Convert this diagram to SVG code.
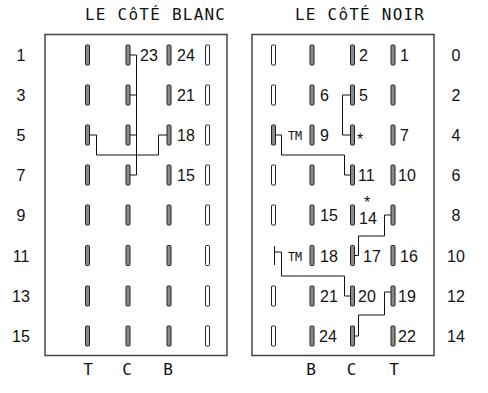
<svg xmlns="http://www.w3.org/2000/svg" width="488" height="393" viewBox="0 0 488 393">
<style>
.box{fill:none;stroke:#444;stroke-width:1.5}
.pg{fill:#8a8a8a;stroke:#222;stroke-width:1}
.pw{fill:#fff;stroke:#222;stroke-width:1}
.wire{fill:none;stroke:#111;stroke-width:1}
.num{font-family:"Liberation Sans",Arial,sans-serif;font-size:16px;fill:#111}
.rl{font-family:"Liberation Sans",Arial,sans-serif;font-size:16px;fill:#111;text-anchor:middle}
.hd{font-family:"DejaVu Sans Mono","Liberation Mono",monospace;font-size:16px;fill:#111}
.cl{font-family:"DejaVu Sans Mono","Liberation Mono",monospace;font-size:16px;fill:#111;text-anchor:middle}
.tm{font-family:"DejaVu Sans Mono","Liberation Mono",monospace;font-size:13px;fill:#111}
</style>
<defs>
<rect id="g" class="pg" x="-2" y="-10" width="4" height="20" rx="1"/>
<rect id="w" class="pw" x="-2" y="-10" width="4" height="20" rx="1"/>
</defs>

<g id="headings">
<text class="hd" x="85" y="20" textLength="140" lengthAdjust="spacing">LE CôTÉ BLANC</text>
<text class="hd" x="295" y="20" textLength="129" lengthAdjust="spacing">LE CôTÉ NOIR</text>
</g>

<g id="row-labels-left">
<text class="rl" x="21" y="61">1</text>
<text class="rl" x="21" y="101">3</text>
<text class="rl" x="21" y="141">5</text>
<text class="rl" x="21" y="181">7</text>
<text class="rl" x="21" y="221">9</text>
<text class="rl" x="21" y="262">11</text>
<text class="rl" x="21" y="302">13</text>
<text class="rl" x="21" y="342">15</text>
</g>
<g id="row-labels-right">
<text class="rl" x="456" y="61">0</text>
<text class="rl" x="456" y="101">2</text>
<text class="rl" x="456" y="141">4</text>
<text class="rl" x="456" y="181">6</text>
<text class="rl" x="456" y="221">8</text>
<text class="rl" x="456" y="262">10</text>
<text class="rl" x="456" y="302">12</text>
<text class="rl" x="456" y="342">14</text>
</g>

<g id="white-side">
<rect class="box" x="45" y="34.5" width="182" height="321"/>
<g id="white-pins">
<use href="#g" x="87.5" y="55"/><use href="#g" x="128" y="55"/><use href="#g" x="169" y="55"/><use href="#w" x="207.5" y="55"/>
<use href="#g" x="87.5" y="95"/><use href="#g" x="128" y="95"/><use href="#g" x="169" y="95"/><use href="#w" x="207.5" y="95"/>
<use href="#g" x="87.5" y="135"/><use href="#g" x="128" y="135"/><use href="#g" x="169" y="135"/><use href="#w" x="207.5" y="135"/>
<use href="#g" x="87.5" y="175"/><use href="#g" x="128" y="175"/><use href="#g" x="169" y="175"/><use href="#w" x="207.5" y="175"/>
<use href="#g" x="87.5" y="215"/><use href="#g" x="128" y="215"/><use href="#g" x="169" y="215"/><use href="#w" x="207.5" y="215"/>
<use href="#g" x="87.5" y="255.5"/><use href="#g" x="128" y="255.5"/><use href="#g" x="169" y="255.5"/><use href="#w" x="207.5" y="255.5"/>
<use href="#g" x="87.5" y="296"/><use href="#g" x="128" y="296"/><use href="#g" x="169" y="296"/><use href="#w" x="207.5" y="296"/>
<use href="#g" x="87.5" y="336"/><use href="#g" x="128" y="336"/><use href="#g" x="169" y="336"/><use href="#w" x="207.5" y="336"/>
</g>
<g id="white-labels">
<text class="num" x="140" y="61">23</text>
<text class="num" x="177" y="61">24</text>
<text class="num" x="177" y="101">21</text>
<text class="num" x="177" y="141">18</text>
<text class="num" x="177" y="181">15</text>
</g>
<g id="white-cols">
<text class="cl" x="88" y="375">T</text>
<text class="cl" x="127" y="375">C</text>
<text class="cl" x="168" y="375">B</text>
</g>
</g>

<g id="black-side">
<rect class="box" x="252" y="34.5" width="182" height="321"/>
<g id="black-pins">
<use href="#w" x="273.5" y="55"/><use href="#g" x="312" y="55"/><use href="#g" x="352.5" y="55"/><use href="#g" x="393" y="55"/>
<use href="#w" x="273.5" y="95"/><use href="#g" x="312" y="95"/><use href="#g" x="352.5" y="95"/><use href="#g" x="393" y="95"/>
<use href="#g" x="273.5" y="135"/><use href="#g" x="312" y="135"/><use href="#g" x="352.5" y="135"/><use href="#g" x="393" y="135"/>
<use href="#w" x="273.5" y="175"/><use href="#g" x="312" y="175"/><use href="#g" x="352.5" y="175"/><use href="#g" x="393" y="175"/>
<use href="#w" x="273.5" y="215"/><use href="#g" x="312" y="215"/><use href="#g" x="352.5" y="215"/><use href="#g" x="393" y="215"/>
<use href="#g" x="312" y="255.5"/><use href="#g" x="352.5" y="255.5"/><use href="#g" x="393" y="255.5"/>
<use href="#w" x="273.5" y="296"/><use href="#g" x="312" y="296"/><use href="#g" x="352.5" y="296"/><use href="#g" x="393" y="296"/>
<use href="#w" x="273.5" y="336"/><use href="#g" x="312" y="336"/><use href="#g" x="352.5" y="336"/><use href="#g" x="393" y="336"/>
</g>
<g id="black-labels">
<text class="num" x="359" y="61">2</text>
<text class="num" x="400" y="61">1</text>
<text class="num" x="320" y="101">6</text>
<text class="num" x="359" y="101">5</text>
<text class="tm" x="288" y="140" textLength="14" lengthAdjust="spacingAndGlyphs">TM</text>
<text class="num" x="320" y="141">9</text>
<text class="num" x="357" y="145" font-size="13">*</text>
<text class="num" x="400" y="141">7</text>
<text class="num" x="358" y="181">11</text>
<text class="num" x="398" y="181">10</text>
<text class="num" x="320" y="221">15</text>
<text class="num" x="364" y="208" font-size="12">*</text>
<text class="num" x="359" y="224">14</text>
<text class="tm" x="288" y="261" textLength="14" lengthAdjust="spacingAndGlyphs">TM</text>
<text class="num" x="320" y="262">18</text>
<text class="num" x="363" y="262">17</text>
<text class="num" x="400" y="262">16</text>
<text class="num" x="320" y="302">21</text>
<text class="num" x="358" y="302">20</text>
<text class="num" x="398" y="302">19</text>
<text class="num" x="319" y="342">24</text>
<text class="num" x="398" y="342">22</text>
</g>
<g id="black-cols">
<text class="cl" x="311" y="375">B</text>
<text class="cl" x="351.5" y="375">C</text>
<text class="cl" x="394" y="375">T</text>
</g>
</g>

<g id="connectors">
<path class="wire" d="M130,55H136.5V175H130M130,95H136.5M130,135H136.5"/>
<path class="wire" d="M89.5,135H96.5V155H158.5V135H167"/>
<path class="wire" d="M350.5,95H342.5V135H350.5"/>
<path class="wire" d="M275.5,135H281.5V155H344.5V175H350.5"/>
<path class="wire" d="M391,215H384.5V236H358.5V255.5H354.5"/>
<path class="wire" d="M274.5,246V265M274.5,252H281.5V276H344.5V296H350.5"/>
<path class="wire" d="M391,292H384.5V315H358.5V336H354.5"/>
</g>
</svg>
